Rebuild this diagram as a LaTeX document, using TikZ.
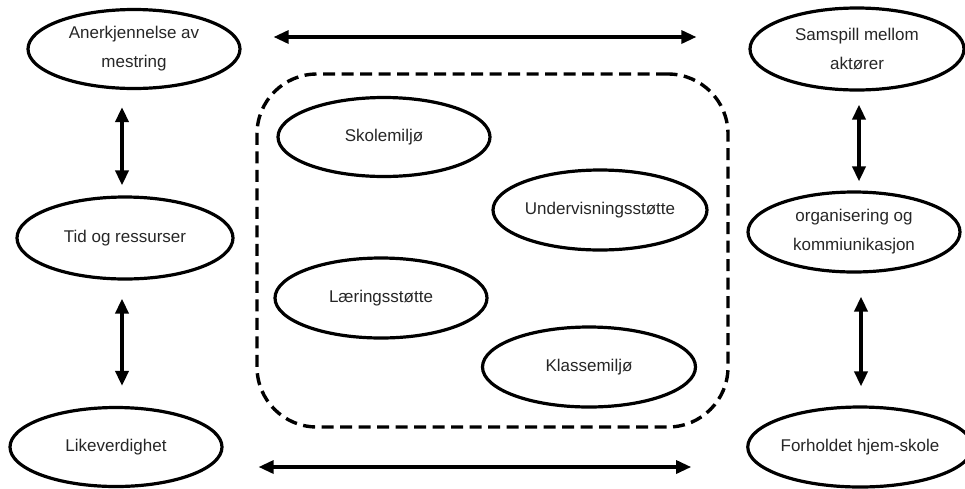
\documentclass[tikz,border=0pt]{standalone}
\usepackage{fontspec}
\setmainfont{Liberation Sans}
\usetikzlibrary{shapes.geometric,arrows.meta}

\begin{document}
\begin{tikzpicture}[x=1pt,y=-1pt,
    blob/.style={ellipse,draw,line width=3.2pt,inner sep=0pt,
        minimum width=212pt,minimum height=79pt,align=center,
        font=\fontsize{17}{29}\selectfont,text=black!85},
    arr/.style={line width=3.6pt,{Triangle[length=15pt,width=13pt]}-{Triangle[length=15pt,width=13pt]}}]
    \useasboundingbox (0,0) rectangle (965,488);
    \node[draw,dashed,line width=3.4pt,dash pattern=on 12pt off 6.5pt,
        rounded corners=60pt,minimum width=471pt,minimum height=353pt] (box) at (492.5,250.5) {};
    \node[blob] (a1) at (134,49) {Anerkjennelse av\\mestring};
    \node[blob,minimum width=216pt,minimum height=82pt] (a2) at (125,238) {Tid og ressurser};
    \node[blob] (a3) at (116,447) {Likeverdighet};
    \node[blob,minimum width=214pt,minimum height=82pt] (b1) at (857,49) {Samspill mellom\\aktører};
    \node[blob,minimum height=80pt] (b2) at (854,232) {organisering og\\kommiunikasjon};
    \node[blob,minimum width=208pt,minimum height=80pt] (b3) at (860,447) {Forholdet hjem-skole};
    \node[blob] (c1) at (384,137) {Skolemiljø};
    \node[blob,minimum width=214pt,minimum height=80pt] (c2) at (600,210) {Undervisningsstøtte};
    \node[blob,minimum height=80pt] (c3) at (381,298) {Læringsstøtte};
    \node[blob,minimum width=213pt,minimum height=80pt] (c4) at (589,367) {Klassemiljø};
    \draw[arr,line width=3.2pt] ([xshift=32pt,yshift=12pt]a1.east) -- ([xshift=-52pt,yshift=12pt]b1.west);
    \draw[arr,line width=3.2pt] ([xshift=35pt,yshift=-20pt]a3.east) -- ([xshift=-55pt,yshift=-20pt]b3.west);
    \draw[arr] ([xshift=-12pt,yshift=-17pt]a1.south) -- ([xshift=-3pt,yshift=10pt]a2.north);
    \draw[arr] ([xshift=-3pt,yshift=-18pt]a2.south) -- ([xshift=6pt,yshift=20pt]a3.north);
    \draw[arr] ([xshift=2pt,yshift=-13pt]b1.south) -- ([xshift=5pt,yshift=9pt]b2.north);
    \draw[arr] ([xshift=7pt,yshift=-23pt]b2.south) -- ([xshift=1pt,yshift=19pt]b3.north);
\end{tikzpicture}
\end{document}
